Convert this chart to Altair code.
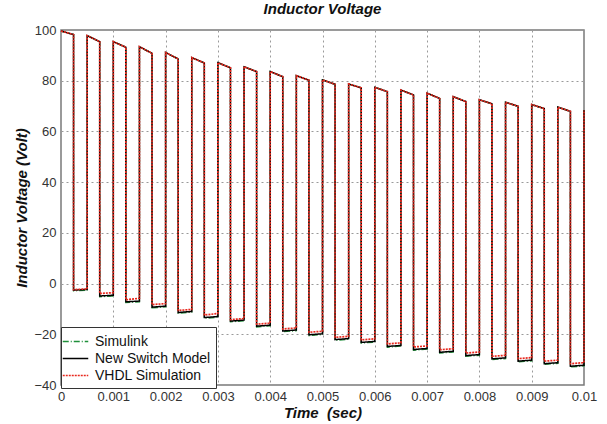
import altair as alt
import pandas as pd

# ---- data ----
rise_times = [0.0, 0.0005, 0.0010, 0.0015, 0.0020, 0.0025, 0.0030, 0.0035, 0.0040, 0.0045,
              0.0050, 0.0055, 0.0060, 0.0065, 0.0070, 0.0075, 0.0080, 0.0085, 0.0090, 0.0095]
fall_times = [0.00024, 0.00074, 0.00124, 0.00174, 0.00224, 0.00274, 0.00324, 0.00374, 0.00424, 0.00474,
              0.00524, 0.00574, 0.00624, 0.00674, 0.00724, 0.00774, 0.00824, 0.00874, 0.00924, 0.00974]
end_time = 0.01
end_value = 68.5

high_start = [99.6, 97.8, 95.4, 93.4, 91.1, 89.1, 87.1, 85.5, 83.6, 82.0,
              80.3, 78.7, 77.4, 76.3, 75.1, 73.7, 72.5, 71.5, 70.6, 69.6]
high_end = [98.2, 95.4, 93.2, 90.8, 88.6, 87.0, 85.1, 83.6, 81.6, 80.2,
            78.6, 77.2, 75.7, 74.4, 73.0, 71.8, 70.9, 69.9, 69.0, 67.9]

# New Switch Model lows
switch_low_start = [-2.6, -4.9, -7.2, -9.3, -11.4, -13.4, -14.8, -16.8, -18.7, -20.2,
                    -22.1, -23.2, -24.8, -26.0, -27.1, -28.4, -29.7, -30.6, -31.6, -32.6]
switch_low_end = [-2.3, -4.6, -6.9, -8.9, -11.0, -13.0, -14.4, -16.4, -18.3, -19.8,
                  -21.7, -22.8, -24.4, -25.6, -26.7, -28.0, -29.3, -30.2, -31.2, -32.2]
# Simulink lows
simulink_low_start = [-2.9, -5.2, -7.5, -9.6, -11.7, -13.7, -15.1, -17.1, -19.0, -20.5,
                      -22.4, -23.5, -25.1, -26.3, -27.4, -28.7, -30.0, -30.9, -31.9, -32.9]
simulink_low_end = [-2.6, -4.9, -7.2, -9.2, -11.3, -13.3, -14.7, -16.7, -18.6, -20.1,
                    -22.0, -23.1, -24.7, -25.9, -27.0, -28.3, -29.6, -30.5, -31.5, -32.5]
# VHDL Simulation lows
vhdl_low_start = [-2.4, -3.9, -6.4, -8.3, -10.6, -12.4, -14.2, -16.0, -17.9, -19.2,
                  -21.2, -22.2, -23.8, -25.0, -26.1, -27.4, -28.7, -29.6, -30.6, -31.6]
vhdl_low_end = [-2.1, -3.6, -5.8, -7.9, -10.2, -11.8, -13.8, -15.6, -17.5, -18.8,
                -20.8, -21.8, -23.4, -24.6, -25.7, -27.0, -28.3, -29.2, -30.2, -31.2]

series_names = ["Simulink", "New Switch Model", "VHDL Simulation"]
series_lows = {
    "Simulink": (simulink_low_start, simulink_low_end),
    "New Switch Model": (switch_low_start, switch_low_end),
    "VHDL Simulation": (vhdl_low_start, vhdl_low_end),
}

rows = []
for name in series_names:
    ls, le = series_lows[name]
    i = 0
    for k in range(len(rise_times)):
        nxt = rise_times[k + 1] if k + 1 < len(rise_times) else end_time
        for t, v in [(rise_times[k], high_start[k]), (fall_times[k], high_end[k]),
                     (fall_times[k], ls[k]), (nxt, le[k])]:
            rows.append({"series": name, "t": t, "v": v, "i": i})
            i += 1
    rows.append({"series": name, "t": end_time, "v": end_value, "i": i})
df = pd.DataFrame(rows)

FONT = "Liberation Sans"
x_ticks = [0, 0.001, 0.002, 0.003, 0.004, 0.005, 0.006, 0.007, 0.008, 0.009, 0.01]
y_ticks = [-40, -20, 0, 20, 40, 60, 80, 100]

color_scale = alt.Scale(domain=series_names, range=["#1f8f3a", "#000000", "#e8281e"])
dash_scale = alt.Scale(domain=series_names, range=[[6, 2, 1, 2], [1, 0], [2, 1]])
width_map = {"Simulink": 1.3, "New Switch Model": 1.5, "VHDL Simulation": 1.7}

base = alt.Chart(df)
layers = []
for name in series_names:
    layers.append(
        base.transform_filter(alt.datum.series == name)
        .mark_line(strokeWidth=width_map[name], interpolate="linear")
        .encode(
            x=alt.X("t:Q", scale=alt.Scale(domain=[0, 0.01], nice=False),
                    axis=alt.Axis(values=x_ticks, format="~g", title="Time\u00a0\u00a0(sec)")),
            y=alt.Y("v:Q", scale=alt.Scale(domain=[-40, 100], nice=False),
                    axis=alt.Axis(values=y_ticks, title="Inductor Voltage (Volt)")),
            order="i:Q",
            color=alt.Color("series:N", scale=color_scale, sort=series_names,
                            legend=alt.Legend(title=None)),
            strokeDash=alt.StrokeDash("series:N", scale=dash_scale, sort=series_names,
                                      legend=alt.Legend(title=None)),
        )
    )

chart = (
    alt.layer(*layers)
    .properties(
        width=523, height=355,
        autosize=alt.AutoSizeParams(type="none"),
        padding={"left": 61, "top": 30, "right": 23, "bottom": 39},
        title=alt.Title("Inductor Voltage", font=FONT, fontSize=15, fontWeight="bold",
                        fontStyle="italic", color="#111", offset=7, anchor="middle"),
    )
    .configure(background="white")
    .configure_view(stroke="#7a7a7a", strokeWidth=1.5)
    .configure_axis(
        labelFont=FONT, labelFontSize=13, labelColor="#333",
        titleFont=FONT, titleFontSize=15, titleFontWeight="bold", titleFontStyle="italic",
        titleColor="#111",
        grid=True, gridColor="#9a9a9a", gridDash=[2, 3], gridWidth=1,
        domain=False, ticks=False, labelPadding=5,
    )
    .configure_axisX(titlePadding=2, labelFlush=False)
    .configure_axisY(titlePadding=4)
    .configure_legend(
        orient="none", legendX=0, legendY=297,
        strokeColor="#333", fillColor="white", padding=5,
        symbolType="M-1.5,0H1.5", symbolSize=289, symbolStrokeWidth=1.5,
        labelFont=FONT, labelFontSize=14, labelColor="#111", labelOffset=10,
        rowPadding=0, cornerRadius=0,
    )
)

chart.save("out.html", embed_options={"renderer": "svg", "actions": False})
